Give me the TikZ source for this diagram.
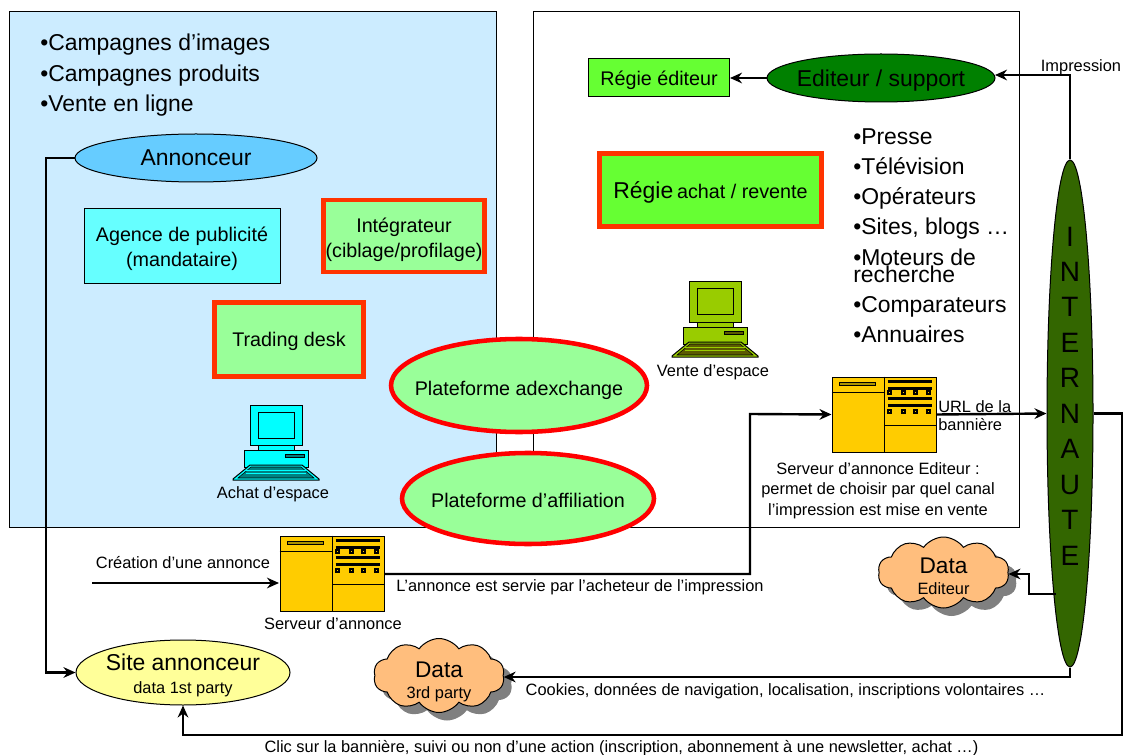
\documentclass[tikz,border=0pt]{standalone}
\usepackage{fontspec}
\setmainfont{Liberation Sans}
\usetikzlibrary{shapes.geometric,shapes.symbols,shadows,arrows.meta}

\definecolor{zonebleu}{RGB}{204,236,255}
\definecolor{vertclair}{RGB}{153,255,153}
\definecolor{bordrouge}{RGB}{255,51,0}
\definecolor{vertvif}{RGB}{102,255,51}
\definecolor{vertediteur}{RGB}{0,128,0}
\definecolor{vertinternaute}{RGB}{51,102,0}
\definecolor{bleuannonceur}{RGB}{102,204,255}
\definecolor{cyanagence}{RGB}{102,255,255}
\definecolor{cyanposte}{RGB}{0,255,255}
\definecolor{jaunesite}{RGB}{255,255,153}
\definecolor{orangedata}{RGB}{255,190,125}
\definecolor{jauneserveur}{RGB}{255,204,0}
\definecolor{vertposte}{RGB}{153,204,0}
\definecolor{vertsombre}{RGB}{90,90,0}
\definecolor{cyansombre}{RGB}{0,128,128}

\newcommand{\fgrand}{\fontsize{17.2}{20}\selectfont}
\newcommand{\fmoyen}{\fontsize{14.8}{19}\selectfont}
\newcommand{\fpetit}{\fontsize{12.3}{15}\selectfont}

\tikzset{
  pxsize/.style 2 args={minimum width=#1*0.75pt,minimum height=#2*0.75pt,inner sep=0pt},
  zone/.style={draw,line width=0.75pt,rectangle},
  boxrouge/.style={draw=bordrouge,line width=3.4pt,rectangle,fill=vertclair,align=center,font=\fmoyen,text depth=0pt},
  ovalrouge/.style={draw=red,line width=3.4pt,ellipse,fill=vertclair},
  oval/.style={draw,line width=0.75pt,ellipse},
  etiquette/.style={align=center,inner sep=0pt,text depth=0pt},
  nuage/.style={draw,line width=0.75pt,cloud,cloud puffs=10,cloud puff arc=110,aspect=1.85,fill=orangedata,
    drop shadow={shadow xshift=6pt,shadow yshift=-6pt,fill=black!50,opacity=1}},
  txt/.style={font=\fpetit,align=center,inner sep=0pt,text depth=0pt},
  liste/.style={font=\fontsize{17.2}{22.7}\selectfont,align=left,inner sep=0pt,anchor=north west},
  flux/.style={line width=1.8pt,-{Stealth[length=9pt,width=8pt]}},
  serveurbox/.style={draw,line width=0.75pt,rectangle,fill=jauneserveur,pxsize={104}{75}},
  pics/serveur/.style={code={
    \draw[line width=0.75pt] (53,0) -- (53,75);
    \draw[line width=0.75pt] (0,16) -- (53,16);
    \draw[line width=0.75pt] (53,49) -- (104,49);
    \draw[line width=0.6pt,fill=vertsombre!50!jauneserveur] (8,6) rectangle (44,9);
    \foreach \yb in {5,12,22,29} \draw[line width=1.6pt] (56,\yb) -- (100,\yb);
    \foreach \yc in {16,35} \foreach \xc in {58,72,84,97}
      \draw[line width=0.8pt,fill=jauneserveur] (\xc-1.5,\yc-1.5) rectangle (\xc+1.5,\yc+1.5);
  }},
  pics/poste/.style 2 args={code={
    \draw[line width=0.75pt,fill=#1] (-18,40) rectangle (18,45);
    \draw[line width=0.75pt,fill=#1] (-32,45) rectangle (32,62);
    \draw[line width=0.75pt,fill=#2] (9,49) rectangle (28,52);
    \draw[line width=0.75pt,fill=#1] (-26,0) rectangle (26,40);
    \draw[line width=0.75pt,fill=#1] (-18,7) rectangle (18,33);
    \draw[line width=0.75pt,fill=#1] (-43,74) -- (-26,60) -- (26,60) -- (43,74) -- (43,75) -- (-43,75) -- cycle;
    \draw[line width=0.4pt,fill=#2] (-38,73) -- (-25,62) -- (25,62) -- (38,73) -- cycle;
    \foreach \yk in {65,68} \draw[line width=0.6pt,#1] (-30,\yk) -- (30,\yk);
  }},
}

\begin{document}
\begin{tikzpicture}[x=0.75pt,y=0.75pt,yscale=-1,xscale=1]
\useasboundingbox (0,0) rectangle (1123,755);

% Zones
\node[zone,fill=white,pxsize={486}{515}] (zonevente) at (776,269.5) {};
\node[zone,fill=zonebleu,pxsize={487}{515}] (zoneachat) at (252.5,269.5) {};

% Text Node
\node[liste] (listeachat) at (40,34) {•Campagnes d’images\\•Campagnes produits\\•Vente en ligne};
\node[liste] (listesupport) at (853,128) {•Presse\\•Télévision\\•Opérateurs\\•Sites, blogs …\\•Moteurs de\\[-10pt]recherche\\•Comparateurs\\•Annuaires};

% Ovals and boxes
\node[oval,fill=bleuannonceur,pxsize={242}{48},label={[etiquette,font=\fgrand]center:Annonceur}] (annonceur) at (196,158) {};
\node[draw,line width=0.75pt,rectangle,fill=cyanagence,align=center,font=\fmoyen,text depth=0pt,pxsize={196}{75}] (agence) at (182,246.5) {Agence de publicité\\(mandataire)};
\node[boxrouge,pxsize={161}{72},label={[etiquette,font=\fmoyen,yshift=-1.5pt]center:Intégrateur\\(ciblage/profilage)}] (integrateur) at (404,236) {};
\node[boxrouge,pxsize={149}{74}] (trading) at (289,339.5) {Trading desk};
\node[ovalrouge,pxsize={256}{93},label={[etiquette,font=\fmoyen,yshift=-2pt]center:Plateforme adexchange}] (adexchange) at (519,385.5) {};
\node[ovalrouge,pxsize={252}{91},label={[etiquette,font=\fmoyen,yshift=-1.5pt]center:Plateforme d’affiliation}] (affiliation) at (528,498.5) {};
\node[draw,line width=0.75pt,rectangle,fill=vertvif,font=\fmoyen,text depth=0pt,pxsize={141}{38}] (regieediteur) at (659,78) {Régie éditeur};
\node[oval,fill=vertediteur,pxsize={228}{48},label={[etiquette,font=\fgrand]center:Editeur / support}] (editeur) at (881,78) {};
\node[draw=bordrouge,line width=3.4pt,rectangle,fill=vertvif,text depth=0pt,pxsize={222}{73}] (regieachat) at (710.5,190) {{\fgrand Régie} {\fmoyen achat / revente}};
\node[oval,fill=vertinternaute,pxsize={46}{507}] (internaute) at (1070,413.5) {};
\node[oval,fill=jaunesite,pxsize={214}{65},label={[etiquette,yshift=-1pt]center:{\fgrand Site annonceur}\\[5pt]{\fpetit data 1st party}}] (site) at (183,672.5) {};
\node[nuage,pxsize={131}{71},label={[etiquette,yshift=-3pt]center:{\fontsize{17}{19}\selectfont Data}\\[4pt]{\fpetit Editeur}}] (dataediteur) at (943.5,572.5) {};
\node[nuage,pxsize={131}{74},label={[etiquette,yshift=-3.5pt]center:{\fontsize{17}{19}\selectfont Data}\\[4pt]{\fpetit 3rd party}}] (datatiers) at (439,675.5) {};

% Text Node
\node[align=center,inner sep=0pt,font=\fontsize{21}{26.6}\selectfont] (internautetxt) at (1070,396) {I\\N\\T\\E\\R\\N\\A\\U\\T\\E};

% Computers
\pic[yscale=-1] at (276,405) {poste={cyanposte}{cyansombre}};
\pic[yscale=-1] at (715,282) {poste={vertposte}{vertsombre}};

% Servers
\node[serveurbox] (serveur) at (332,573.5) {};
\pic[yscale=-1] at (serveur.north west) {serveur};
\node[serveurbox] (serveurediteur) at (884,414.5) {};
\pic[yscale=-1] at (serveurediteur.north west) {serveur};

% Free ends
\coordinate (departcreation) at (92,583);
\coordinate (arriveecreation) at (279,583);
\coordinate (coudeannonceur) at (46,158);
\coordinate (coudeimpression) at (1070,75);
\coordinate (arriveeimpression) at (995,75);
\coordinate (departdata) at (1056,594);
\coordinate (coudeclic) at (1122,735);

%Straight Lines
\draw[flux] (annonceur.west) -- (coudeannonceur) |- (site.west);
\draw[flux] (departcreation) -- (arriveecreation);
\draw[flux] (serveur.east |- 0,574) -| (750,414) -- (serveurediteur.west);
\draw[flux] (serveurediteur.east) -- (internaute.west);
\draw[flux] (internaute.north) -- (coudeimpression) -- (arriveeimpression);
\draw[flux] (editeur.west) -- (regieediteur.east);
\draw[flux] (internaute.east) -| (coudeclic) -| (site.south);
\draw[flux] (departdata) -| (1029,574) -- (dataediteur.east |- 0,574);
\draw[flux] (internaute.south) |- (datatiers.east |- 0,677);

% Text Node
\node[txt] (impression) at (1081,66) {Impression};
\node[txt] (venteespace) at (713,371) {Vente d’espace};
\node[txt] (achatespace) at (273,493) {Achat d’espace};
\node[txt] (creation) at (183,562) {Création d’une annonce};
\node[txt] (serveurtxt) at (333,624) {Serveur d’annonce};
\node[txt,anchor=west] (servie) at (396,586) {L’annonce est servie par l’acheteur de l’impression};
\node[txt,anchor=west,align=left,font=\fontsize{12.3}{13.5}\selectfont] (url) at (938,416) {URL de la\\bannière};
\node[txt,font=\fontsize{12.3}{15.2}\selectfont] (serveuredtxt) at (878,489) {Serveur d’annonce Editeur :\\permet de choisir par quel canal\\l’impression est mise en vente};
\node[txt] (cookies) at (785.5,689) {Cookies, données de navigation, localisation, inscriptions volontaires …};
\node[txt] (clic) at (621.5,746) {Clic sur la bannière, suivi ou non d’une action (inscription, abonnement à une newsletter, achat …)};

\end{tikzpicture}
\end{document}
